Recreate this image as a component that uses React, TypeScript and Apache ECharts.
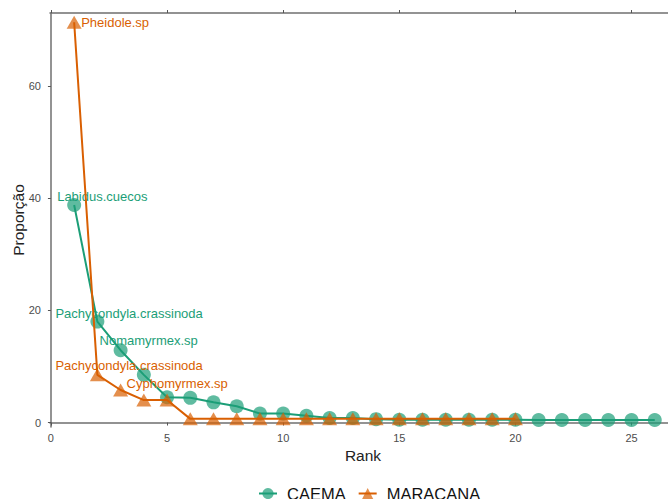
import React, { useEffect, useRef } from "react";
import * as echarts from "echarts";

const seriesNames = ["CAEMA", "MARACANA"];
const caemaValues = [38.8, 18.0, 12.9, 8.5, 4.5, 4.4, 3.6, 2.9, 1.6, 1.6, 1.2, 0.8, 0.8, 0.6, 0.5, 0.5, 0.5, 0.5, 0.5, 0.5, 0.45, 0.45, 0.45, 0.45, 0.45, 0.45];
const maracanaValues = [71.4, 8.5, 5.8, 4.0, 4.0, 0.65, 0.65, 0.65, 0.65, 0.65, 0.65, 0.65, 0.65, 0.65, 0.65, 0.65, 0.65, 0.65, 0.65, 0.65];
const caemaLabels = ["Labidus.cuecos", "Pachycondyla.crassinoda", "Nomamyrmex.sp"];
const maracanaLabels = ["Pheidole.sp", "Pachycondyla.crassinoda", "Cyphomyrmex.sp"];
const xTicks = [0, 5, 10, 15, 20, 25];
const yTicks = [0, 20, 40, 60];

// label offsets (styling only)
const caemaOffsets = [[-17, -9], [-42, -8.5], [-21, -10]];
const maracanaOffsets = [[7, 0], [-42, -9], [6, -6.5]];

const GREEN = "#1b9e77";
const ORANGE = "#d95f02";
const FONT = "'Liberation Sans', Arial, sans-serif";

function buildData(values: number[], labels: string[], offsets: number[][], color: string) {
  return values.map((v, i) => {
    const item: any = { value: [i + 1, v] };
    if (i < labels.length) {
      item.label = {
        show: true,
        formatter: labels[i],
        position: "inside",
        align: "left",
        verticalAlign: "middle",
        offset: offsets[i],
        color,
        fontSize: 13,
        fontFamily: FONT,
      };
    }
    return item;
  });
}

export default function App() {
  const ref = useRef<HTMLDivElement>(null);
  useEffect(() => {
    if (!ref.current) return;
    const chart = echarts.init(ref.current, null, { renderer: "svg" });
    const axisLine = { show: true, lineStyle: { color: "#6f6f6f", width: 1.5 } };
    chart.setOption({
      animation: false,
      backgroundColor: "#ffffff",
      textStyle: { fontFamily: FONT },
      grid: { left: 50, top: 13, right: 0, bottom: 72, containLabel: false, outerBoundsMode: "none" },
      legend: {
        data: seriesNames,
        left: 253,
        top: 480,
        itemWidth: 18,
        itemHeight: 14,
        itemGap: 12,
        textStyle: { fontSize: 16.5, color: "#111", fontFamily: FONT, padding: [0, 0, 0, 5] },
      },
      xAxis: [
        {
          type: "value",
          min: -0.04,
          max: 26.57,
          position: "bottom",
          name: "Rank",
          nameLocation: "middle",
          nameGap: 20,
          nameMoveOverlap: false,
          nameTextStyle: { fontSize: 15.5, color: "#222", fontFamily: FONT, padding: [0, 0, 0, 8] },
          axisLine,
          axisTick: { show: true, length: 3, customValues: xTicks, lineStyle: { color: "#555" } },
          axisLabel: { customValues: xTicks, fontSize: 11, color: "#4d4d4d", margin: 5, fontFamily: FONT },
          splitLine: { show: false },
        },
        {
          type: "value",
          min: -0.04,
          max: 26.57,
          position: "top",
          axisLine,
          axisTick: { show: true, length: 3, customValues: xTicks, lineStyle: { color: "#555" } },
          axisLabel: { show: false },
          splitLine: { show: false },
        },
      ],
      yAxis: {
        type: "value",
        min: -0.8,
        max: 73.06,
        name: "Proporção",
        nameLocation: "middle",
        nameGap: 24,
        nameMoveOverlap: false,
        nameRotate: 90,
        nameTextStyle: { fontSize: 15.5, color: "#222", fontFamily: FONT },
        axisLine,
        axisTick: { show: true, length: 3, customValues: yTicks, lineStyle: { color: "#555" } },
        axisLabel: { customValues: yTicks, fontSize: 11, color: "#4d4d4d", margin: 9, fontFamily: FONT },
        splitLine: { show: false },
      },
      series: [
        {
          name: seriesNames[0],
          type: "line",
          data: buildData(caemaValues, caemaLabels, caemaOffsets, GREEN),
          symbol: "circle",
          symbolSize: 14,
          showAllSymbol: true,
          lineStyle: { color: GREEN, width: 2 },
          itemStyle: { color: "rgba(27,158,119,0.7)" },
          emphasis: { disabled: true },
          z: 2,
        },
        {
          name: seriesNames[1],
          type: "line",
          data: buildData(maracanaValues, maracanaLabels, maracanaOffsets, ORANGE),
          symbol: "triangle",
          symbolSize: [15, 13],
          showAllSymbol: true,
          lineStyle: { color: ORANGE, width: 2 },
          itemStyle: { color: "rgba(217,95,2,0.7)" },
          emphasis: { disabled: true },
          z: 3,
        },
      ],
    });
    return () => chart.dispose();
  }, []);
  return <div ref={ref} style={{ width: 668, height: 499, position: "absolute", left: 0, top: 0 }} />;
}
